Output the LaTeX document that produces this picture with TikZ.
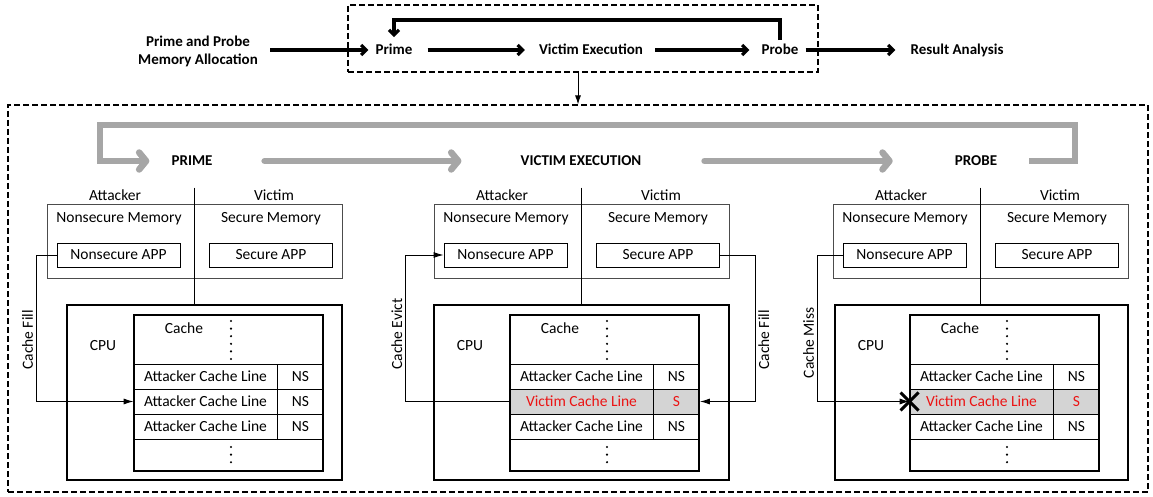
\documentclass[tikz,border=0pt]{standalone}
\usepackage{fontspec}
\setmainfont{Carlito}
\usetikzlibrary{arrows.meta}

\definecolor{loopgray}{RGB}{166,166,166}
\definecolor{victimred}{RGB}{235,20,20}

\tikzset{
  flowtext/.style={font=\bfseries\fontsize{15}{18}\selectfont, inner sep=0pt, text height=9.5pt, text depth=0pt},
  phasetext/.style={font=\bfseries\fontsize{15}{18}\selectfont, inner sep=0pt, text height=9.5pt, text depth=0pt},
  plain/.style={font=\fontsize{15.5}{18}\selectfont, inner sep=0pt},
  dashbox/.style={draw, line width=1.1pt, dash pattern=on 6pt off 3pt, inner sep=0pt},
  flowarrow/.style={line width=3.2pt, -{Straight Barb[length=5pt,width=10pt]}},
  grayarrow/.style={line width=6.5pt, color=loopgray, line cap=round, -{Straight Barb[round,length=7pt,width=17pt]}},
  grayloop/.style={line width=6.5pt, color=loopgray, -{Straight Barb[round,length=7pt,width=17pt]}},
  membox/.style={draw=black!70, line width=0.9pt, inner sep=0pt, minimum width=295pt, minimum height=74pt},
  appbox/.style={draw, line width=0.9pt, font=\fontsize{15.5}{18}\selectfont, minimum width=123pt, minimum height=24pt, inner sep=0pt},
  cpubox/.style={draw, line width=1.8pt, inner sep=0pt, minimum height=175pt},
  cachebox/.style={draw, line width=1.8pt, inner sep=0pt, minimum width=189pt, minimum height=156pt},
  linebox/.style={draw, line width=0.8pt, font=\fontsize{15.5}{18}\selectfont, inner sep=0pt, minimum width=143pt, minimum height=25pt},
  tagbox/.style={draw, line width=0.8pt, font=\fontsize{15.5}{18}\selectfont, inner sep=0pt, minimum width=46pt, minimum height=25pt},
  victimrow/.style={fill=black!17, text=victimred},
  dotline/.style={line width=2.4pt, line cap=round, dash pattern=on 0pt off 7.6pt},
  link/.style={line width=0.9pt, -{Latex[length=10pt,width=6pt]}},
  linklabel/.style={font=\fontsize{15.5}{18}\selectfont, rotate=90, inner sep=3pt},
  crossmark/.style={line width=3pt}
}

\begin{document}
\begin{tikzpicture}[x=1pt, y=-1pt]
    \useasboundingbox (0,0) rectangle (1153,497);

    % overall flow
    \node[dashbox, minimum width=470pt, minimum height=67pt] (flow) at (583,38.5) {};
    \node[flowtext, align=center, text height=, text depth=] (alloc) at (198,51) {Prime and Probe\\Memory Allocation};
    \node[flowtext] (prime) at (394,50) {Prime};
    \node[flowtext] (victim) at (591,50) {Victim Execution};
    \node[flowtext] (probe) at (780,50) {Probe};
    \node[flowtext] (result) at (957,50) {Result Analysis};

    \draw[flowarrow] ([xshift=12pt]alloc.east |- prime.west) -- ([xshift=-7pt]prime.west);
    \draw[flowarrow] ([xshift=15pt]prime.east) -- ([xshift=-14pt]victim.west);
    \draw[flowarrow] ([xshift=12pt]victim.east) -- ([xshift=-12pt]probe.west);
    \draw[flowarrow] ([xshift=7pt]probe.east) -- ([xshift=-15pt]result.west);
    \draw[flowarrow] ([yshift=5pt]probe.north) -- ++(0,-20) -| ([yshift=8pt]prime.north);

    % detail of the three phases
    \node[dashbox, minimum width=1140pt, minimum height=387pt] (stages) at (578,298.5) {};
    \draw[line width=0.9pt, -{Latex[length=9pt,width=6pt]}] (flow.south -| stages.north) -- (stages.north);

    \node[phasetext] (ph1) at (192,161) {PRIME};
    \node[phasetext] (ph2) at (581,161) {VICTIM EXECUTION};
    \node[phasetext] (ph3) at (976,161) {PROBE};
    \coordinate (loopR) at (1075,125);
    \coordinate (loopL) at (100,125);

    \draw[grayarrow] ([xshift=52pt]ph1.east) -- ([xshift=-59pt]ph2.west);
    \draw[grayarrow] ([xshift=63pt]ph2.east) -- ([xshift=-62pt]ph3.west);
    \draw[grayloop] ([xshift=32pt]ph3.east) -| (loopR) -- (loopL) |- ([xshift=-22pt]ph1.west);

    \foreach \i/\mx/\cx/\kx [evaluate=\mx as \cw using 295+\mx-\cx] in {1/47/67/134, 2/434/434/510, 3/833/835/910} {
        \node[plain] (atk\i) at ({\mx+68},195) {Attacker};
        \node[plain] (vic\i) at ({\mx+227},195) {Victim};
        \node[membox] (mem\i) at ({\mx+147.5},241) {};
        \node[plain] at ({\mx+72},219) {Nonsecure Memory};
        \node[plain] at ({\mx+224},219) {Secure Memory};
        \node[appbox] (napp\i) at ({\mx+71.5},255) {Nonsecure APP};
        \node[appbox] (sapp\i) at ({\mx+224},255) {Secure APP};

        \node[cpubox, minimum width=\cw pt] (cpu\i) at ({\cx+\cw/2},392.5) {};
        \node[plain] (cpulabel\i) at ({\cx+36},346) {CPU};
        \draw[line width=1.2pt] ([yshift=16pt]mem\i.north) -- (mem\i.north |- cpu\i.north);

        \node[linebox] (line\i-1) at ({\kx+71.5},376.5) {Attacker Cache Line};
        \node[tagbox] (tag\i-1) at ({\kx+166.5},376.5) {NS};
        \ifnum\i=1
            \node[linebox] (line\i-2) at ({\kx+71.5},401.5) {Attacker Cache Line};
            \node[tagbox] (tag\i-2) at ({\kx+166.5},401.5) {NS};
        \else
            \node[linebox, victimrow] (line\i-2) at ({\kx+71.5},401.5) {Victim Cache Line};
            \node[tagbox, victimrow] (tag\i-2) at ({\kx+166.5},401.5) {S};
        \fi
        \node[linebox] (line\i-3) at ({\kx+71.5},426.5) {Attacker Cache Line};
        \node[tagbox] (tag\i-3) at ({\kx+166.5},426.5) {NS};

        \node[cachebox] (cache\i) at ({\kx+94.5},393) {};
        \node[plain] (cachelabel\i) at ({\kx+50},328) {Cache};
        \draw[dotline] ({\kx+97},321) -- ({\kx+97},360);
        \draw[dotline] ({\kx+97},447) -- ({\kx+97},466);
    }

    % cache traffic
    \draw[link] (napp1.west) -- ++(-20,0) |- node[linklabel, pos=0.29, anchor=south] {Cache Fill} (line1-2.west);
    \draw[link] (line2-2.west) -- ++(-104,0) |- node[linklabel, pos=0.23, anchor=south] {Cache Evict} (napp2.west);
    \draw[link] (sapp2.east) -- ++(35,0) |- node[linklabel, pos=0.29, anchor=north] {Cache Fill} (tag2-2.east);
    \draw[link] (napp3.west) -- ++(-25,0) |- node[linklabel, pos=0.3, anchor=south] {Cache Miss} (line3-2.west);
    \draw[crossmark] ([shift={(-9pt,9pt)}]line3-2.west) -- ([shift={(9pt,-9pt)}]line3-2.west);
    \draw[crossmark] ([shift={(-9pt,-9pt)}]line3-2.west) -- ([shift={(9pt,9pt)}]line3-2.west);
\end{tikzpicture}
\end{document}
